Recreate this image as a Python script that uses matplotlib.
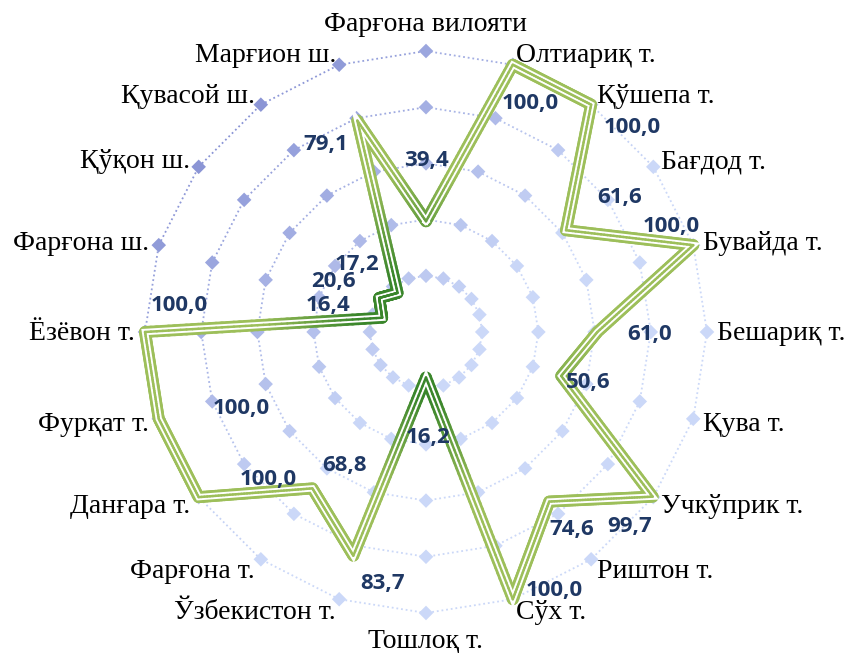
import numpy as np
import matplotlib
matplotlib.use('Agg')
import matplotlib.pyplot as plt
from matplotlib.collections import LineCollection
from matplotlib.colors import to_rgb

# данные
categories = ['Фарғона вилояти', 'Олтиариқ т.', 'Қўшепа т.', 'Бағдод т.', 'Бувайда т.',
              'Бешариқ т.', 'Қува т.', 'Учкўприк т.', 'Риштон т.', 'Сўх т.', 'Тошлоқ т.',
              'Ўзбекистон т.', 'Фарғона т.', 'Данғара т.', 'Фурқат т.', 'Ёзёвон т.',
              'Фарғона ш.', 'Қўқон ш.', 'Қувасой ш.', 'Марғион ш.']
values = [39.4, 100.0, 100.0, 61.6, 100.0, 61.0, 50.6, 99.7, 74.6, 100.0, 16.2,
          83.7, 68.8, 100.0, 100.0, 100.0, 16.4, 20.6, 17.2, 79.1]
grid_levels = [20, 40, 60, 80, 100]

# сдвиги подписей значений (пиксели, вниз = +)
label_offsets = [(1, -61), (17, 39), (41, 23), (54, -33), (-22, -19), (52, 3), (27, 7),
                 (-23, 30), (23, 28), (41, -9), (2, 60), (29, 28), (32, -23), (70, -18),
                 (82, -10), (34, -26), (-54, -12), (-46, -16), (-41, -28), (-32, 24)]

n = len(categories)
thetas = np.arange(n) * 2 * np.pi / n

dark_green = np.array(to_rgb('#3a862b'))
light_green = np.array(to_rgb('#9dbf5a'))
dark_blue = np.array(to_rgb('#8a94d5'))
light_blue = np.array(to_rgb('#cbd8f8'))


def ring_color(th, r):
    x = r * np.sin(th) / 100
    y = r * np.cos(th) / 100
    s = (y - x) / np.sqrt(2)
    t = np.clip((s + 0.1) / 1.1, 0, 1)
    return light_blue + (dark_blue - light_blue) * t


def green_color(r):
    t = np.clip((r - 24) / 34, 0, 1)
    return dark_green + (light_green - dark_green) * t


fig = plt.figure(figsize=(8.47, 6.53), dpi=100)
ax = fig.add_axes([0.1712, 0.0613, 0.6635, 0.8606], projection='polar')
ax.set_theta_zero_location('N')
ax.set_theta_direction(-1)
ax.set_ylim(0, 100)
ax.axis('off')

# сетка: пунктирные кольца с ромбами
for lev in grid_levels:
    segs = []
    cols = []
    for i in range(n):
        j = (i + 1) % n
        t1, t2 = thetas[i], thetas[j] if j else 2 * np.pi
        segs.append([(t1, lev), (t2, lev)])
        cols.append(ring_color((t1 + t2) / 2, lev))
    lc = LineCollection(segs, colors=cols, linewidths=1.3, linestyles=(0, (1, 1.6)), clip_on=False)
    ax.add_collection(lc)
    ax.scatter(thetas, [lev] * n, marker='D', s=55, c=[ring_color(t, lev) for t in thetas],
               edgecolors='none', zorder=3, clip_on=False)

# линия данных с градиентом
xs = [v * np.sin(t) for t, v in zip(thetas, values)]
ys = [v * np.cos(t) for t, v in zip(thetas, values)]
xs.append(xs[0])
ys.append(ys[0])
pts = []
for k in range(n):
    for f in np.linspace(0, 1, 40, endpoint=False):
        pts.append((xs[k] + (xs[k + 1] - xs[k]) * f, ys[k] + (ys[k + 1] - ys[k]) * f))
pts.append((xs[0], ys[0]))
pts = np.array(pts)
pth = np.arctan2(pts[:, 0], pts[:, 1])
pr = np.hypot(pts[:, 0], pts[:, 1])
segs = [[(pth[k], pr[k]), (pth[k + 1], pr[k + 1])] for k in range(len(pts) - 1)]
cols = [green_color((pr[k] + pr[k + 1]) / 2) for k in range(len(pts) - 1)]

ax.add_collection(LineCollection(segs, colors=cols, linewidths=8.6, capstyle='round',
                                 joinstyle='round', zorder=4, clip_on=False))
closed_t = list(thetas) + [thetas[0]]
closed_v = list(values) + [values[0]]
ax.plot(closed_t, closed_v, color='white', lw=4.6, solid_joinstyle='miter', zorder=5, clip_on=False)
ax.add_collection(LineCollection(segs, colors=cols, linewidths=1.8, capstyle='round',
                                 zorder=6, clip_on=False))

# подписи значений
for t, v, (dx, dy) in zip(thetas, values, label_offsets):
    ax.annotate(f'{v:.1f}'.replace('.', ','), xy=(t, v), xytext=(dx, -dy),
                textcoords='offset pixels', ha='center', va='center',
                fontsize=16, fontweight='bold', family='Open Sans', color='#1f3864', zorder=7)

# подписи категорий
for t, name in zip(thetas, categories):
    s, c = np.sin(t), np.cos(t)
    if abs(s) < 0.01:
        ha = 'center'
        dx, dy = 0, (-26 if c > 0 else 28)
    else:
        ha = 'left' if s > 0 else 'right'
        dx, dy = 10 * s, -12 * c + 2
    ax.annotate(name, xy=(t, 100), xytext=(dx, -dy), textcoords='offset pixels',
                ha=ha, va='center', fontsize=20, family='Liberation Serif', color='black')

plt.savefig('out.png', dpi=100)
